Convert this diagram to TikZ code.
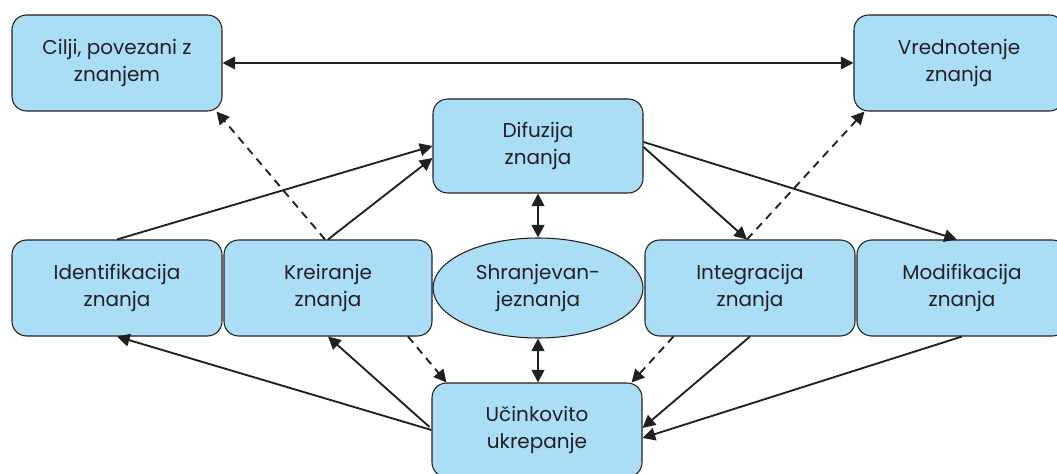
\documentclass[tikz,border=0pt]{standalone}
\usepackage{fontspec}
\usepackage{tikz}
\usetikzlibrary{calc,arrows.meta,shapes.geometric}
\newfontfamily\boxfont{Poppins}
\definecolor{boxblue}{RGB}{170,222,247}
\definecolor{inkgray}{RGB}{35,31,32}
\tikzset{
	box/.style={draw=inkgray, fill=boxblue, rounded corners=11pt, line width=0.8pt, minimum width=157.5pt, minimum height=72pt, inner sep=2pt, align=center, text=inkgray, font=\boxfont\fontsize{15}{20}\selectfont},
	store/.style={box, ellipse, rounded corners=0pt, minimum height=75pt},
	link/.style={draw=inkgray, line width=1.4pt, -{Triangle[length=9.5pt,width=9.5pt]}},
	dlink/.style={link, dash pattern=on 6pt off 4.5pt},
	twoway/.style={draw=inkgray, line width=1.4pt, {Triangle[length=9.5pt,width=9.5pt]}-{Triangle[length=9.5pt,width=9.5pt]}}
}

\begin{document}
\begin{tikzpicture}[x=0.75pt, y=-0.75pt]
			%%%%% START %%%%%
			
			\useasboundingbox (0, 0) rectangle (1057, 474);
			
			\node[box] (cilji) at (117, 63) {Cilji, povezani z\\znanjem};
			\node[box] (vred) at (959, 63) {Vrednotenje\\znanja};
			\node[box, minimum height=70.5pt] (difuzija) at (538, 146) {Difuzija\\znanja};
			
			\node[box] (ident) at (117, 288) {Identifikacija\\znanja};
			\node[box, minimum width=156pt] (kreir) at (328, 288) {Kreiranje\\znanja};
			\node[store] (shran) at (538, 288) {Shranjevan-\\jeznanja};
			\node[box] (integ) at (750, 288) {Integracija\\znanja};
			\node[box] (modif) at (962, 288) {Modifikacija\\znanja};
			
			\node[box, minimum height=70.5pt] (ucink) at (537, 430) {Učinkovito\\ukrepanje};
			
			\draw[twoway] (cilji.east) -- (vred.west);
			
			\draw[link] (ident.north) -- (difuzija.west);
			\draw[link] (kreir.north) -- ($(difuzija.west)+(0, 12)$);
			\draw[dlink] ($(kreir.north)+(-3, 0)$) -- ($(cilji.south east)+(-6, 0)$);
			
			\draw[link] ($(difuzija.east)+(0, 1)$) -- ($(integ.north)+(-3, 0)$);
			\draw[link] ($(difuzija.east)+(0, -4)$) -- ($(modif.north)+(-5, 0)$);
			\draw[dlink] ($(integ.north)+(-3, 0)$) -- ($(vred.south west)+(11, 0)$);
			
			\draw[twoway, line width=2pt] (difuzija.south) -- (shran.north);
			\draw[twoway, line width=2pt] (shran.south) -- (shran.south |- ucink.north);
			
			\draw[link] (ucink.west) -- (ident.south);
			\draw[link] ($(ucink.west)+(-2, -3)$) -- (kreir.south);
			\draw[dlink] ($(kreir.south)+(80, 0)$) -- ($(ucink.north west)+(15, 0)$);
			
			\draw[dlink] ($(integ.south west)+(29, 0)$) -- ($(ucink.north east)+(-11, 0)$);
			\draw[link] (integ.south) -- ($(ucink.east)+(0, -2)$);
			\draw[link] (modif.south) -- ($(ucink.east)+(0, 8)$);
			
			%%%%% END %%%%%
		\end{tikzpicture}
\end{document}
